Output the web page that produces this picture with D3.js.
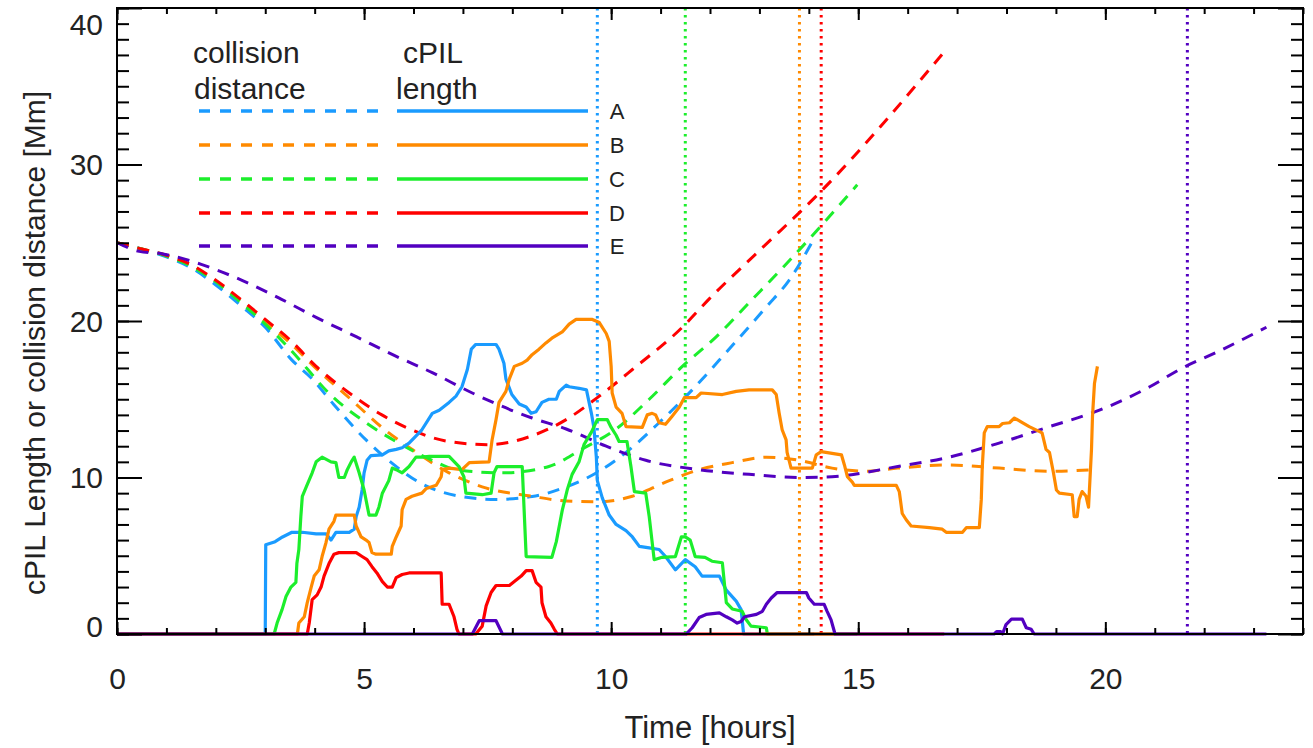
<!DOCTYPE html>
<html><head><meta charset="utf-8">
<script src="https://cdn.jsdelivr.net/npm/d3@7"></script>
<style>
body{margin:0;background:#fff}
text{font-family:"Liberation Sans",Arial,Helvetica,sans-serif;fill:#222}
</style>
</head><body>
<svg id="chart" width="1313" height="748"></svg>
<script>
// ---------- data ----------
const seriesNames  = ["A","B","C","D","E"];
const seriesColors = ["#1a9bff","#ff8a00","#1cee2c","#ff0000","#5200c0"];
const xTickLabels  = [0,5,10,15,20];
const yTickLabels  = [0,10,20,30,40];
const eventTimes   = [9.72,13.81,11.50,14.25,21.66];   // dotted vertical lines A..E

// collision distance [Mm] vs time [h]
const distA = [[0,25],[0.5,24.6],[1,24.1],[1.5,23.4],[2,22.3],[2.5,21.0],[3,19.6],[3.54,17.5],[3.95,16.3],[4.35,14.8],[5.04,12.4],[5.57,10.9],[6.11,9.7],[6.98,8.78],[7.67,8.6],[8.4,8.78],[9.09,9.4],[9.76,10.4],[10.3,11.6],[10.97,13.5],[11.64,15.6],[12.33,18.0],[13.14,20.9],[13.6,22.6],[14.11,25.3]];
const distB = [[0,25],[0.5,24.6],[1,24.2],[1.5,23.55],[2,22.55],[2.5,21.3],[3,19.95],[3.5,18.6],[4.05,16.9],[4.66,15.2],[5.44,13.0],[5.97,11.8],[6.72,10.3],[7.39,9.4],[8.4,8.8],[9.09,8.5],[9.76,8.45],[10.43,8.8],[11.1,9.7],[11.78,10.5],[12.45,10.95],[13.14,11.3],[13.8,11.1],[14.47,10.6],[15.16,10.4],[15.8,10.6],[16.84,10.8],[17.85,10.6],[18.87,10.4],[19.8,10.5]];
const distC = [[0,25],[0.5,24.6],[1,24.15],[1.5,23.5],[2,22.5],[2.5,21.2],[3,19.8],[3.5,18.2],[4.35,15.2],[5.04,13.5],[5.7,12.2],[6.38,11.1],[6.86,10.5],[7.8,10.3],[8.74,10.7],[9.4,11.8],[10.1,13.1],[10.77,15.0],[11.44,17.1],[12.13,19.0],[12.8,21.2],[13.5,23.5],[14.98,28.7]];
const distD = [[0,25],[0.5,24.6],[1,24.2],[1.5,23.6],[2,22.6],[2.5,21.4],[3,20.1],[3.5,18.8],[4.03,17.1],[4.7,15.4],[5.36,14.0],[5.85,13.2],[6.72,12.3],[7.53,12.1],[8.34,12.6],[9.09,13.7],[9.76,15.2],[10.43,16.9],[11.44,19.6],[11.98,21.4],[13.0,24.5],[14.25,28.3],[16.74,37.2]];
const distE = [[0,25],[0.45,24.45],[0.91,24.3],[1.32,24.0],[1.72,23.6],[2.53,22.6],[3.32,21.4],[4.05,20.2],[4.84,19.0],[5.61,17.8],[6.38,16.7],[7.19,15.4],[8.4,13.8],[9.09,13.1],[9.9,12.0],[10.7,11.1],[11.78,10.5],[12.79,10.2],[13.8,10.0],[14.47,10.05],[15.8,10.7],[16.84,11.3],[17.85,12.2],[18.87,13.25],[19.88,14.3],[20.9,15.8],[21.56,17.0],[22.25,18.0],[23.26,19.6]];

// cPIL length [Mm] vs time [h]
const cpilA = [[0,0],[3.0,0],[3.01,5.7],[3.2,5.9],[3.35,6.2],[3.54,6.5],[3.75,6.5],[4.03,6.4],[4.23,6.4],[4.33,6.0],[4.43,6.5],[4.7,6.5],[4.8,6.7],[4.84,7.5],[4.9,8.1],[4.96,9.2],[5.0,10.3],[5.06,11.1],[5.14,11.4],[5.37,11.45],[5.5,11.7],[5.65,11.8],[5.77,11.9],[5.91,12.2],[6.17,13.05],[6.38,14.1],[6.52,14.3],[6.72,14.8],[6.86,15.2],[6.98,15.8],[7.09,16.9],[7.17,18.2],[7.26,18.5],[7.67,18.5],[7.73,18.2],[7.83,17.3],[7.87,16.3],[7.99,15.3],[8.14,14.7],[8.28,14.5],[8.38,14.1],[8.48,14.2],[8.6,14.8],[8.74,15.0],[8.89,15.0],[8.95,15.5],[9.09,15.9],[9.15,15.8],[9.35,15.7],[9.5,15.6],[9.6,14.1],[9.65,13.2],[9.7,11.3],[9.72,9.8],[9.82,8.7],[9.96,7.6],[10.1,7.0],[10.3,6.6],[10.43,6.2],[10.57,5.6],[10.77,5.5],[10.97,5.4],[11.1,4.95],[11.3,4.1],[11.5,4.75],[11.7,4.3],[11.84,3.7],[12.19,3.7],[12.33,2.8],[12.53,2.1],[12.63,1.56],[12.68,0],[14.11,0]];
const cpilB = [[0,0],[3.65,0],[3.68,0.7],[3.79,1.1],[3.85,2.0],[3.93,3.0],[3.99,3.7],[4.09,4.1],[4.15,4.95],[4.23,5.85],[4.29,6.7],[4.39,7.2],[4.43,7.6],[4.8,7.6],[4.84,6.9],[4.94,6.2],[5.04,6.0],[5.1,5.85],[5.16,5.2],[5.24,5.1],[5.55,5.1],[5.57,5.6],[5.65,6.2],[5.75,6.9],[5.77,7.95],[5.85,8.6],[5.97,8.8],[6.17,9.0],[6.26,9.3],[6.46,9.5],[6.56,10.05],[6.58,10.5],[6.72,10.6],[6.98,10.5],[7.13,10.95],[7.53,11.0],[7.59,12.4],[7.67,13.7],[7.73,14.8],[7.87,15.5],[7.94,16.3],[8.04,17.1],[8.2,17.3],[8.3,17.5],[8.4,17.85],[8.54,18.2],[8.68,18.6],[8.8,18.9],[9.01,19.3],[9.15,19.8],[9.29,20.1],[9.62,20.1],[9.76,19.9],[9.9,19.2],[9.96,18.7],[10.0,17.1],[10.02,15.4],[10.1,14.5],[10.22,14.1],[10.3,13.25],[10.63,13.2],[10.73,14.0],[10.83,14.1],[10.9,14.0],[10.97,13.5],[11.1,13.4],[11.23,13.9],[11.38,14.5],[11.48,15.1],[11.72,15.1],[11.82,15.4],[12.25,15.3],[12.53,15.5],[12.79,15.6],[13.26,15.6],[13.34,15.3],[13.4,14.1],[13.46,13.05],[13.54,12.4],[13.56,11.6],[13.64,10.6],[14.07,10.6],[14.15,11.45],[14.25,11.65],[14.66,11.45],[14.72,10.8],[14.78,10.05],[14.88,9.7],[14.92,9.5],[15.77,9.5],[15.83,9.1],[15.89,7.7],[15.97,7.3],[16.07,6.9],[16.44,6.8],[16.7,6.7],[16.78,6.5],[17.11,6.5],[17.19,6.8],[17.45,6.8],[17.49,8.6],[17.51,10.7],[17.55,12.85],[17.61,13.25],[17.85,13.25],[17.92,13.45],[18.06,13.5],[18.16,13.8],[18.32,13.5],[18.46,13.25],[18.66,12.95],[18.72,12.85],[18.8,11.8],[18.87,11.6],[18.95,10.3],[19.01,9.2],[19.07,9.0],[19.33,8.9],[19.37,7.5],[19.43,7.5],[19.47,8.6],[19.53,9.1],[19.61,8.8],[19.66,8.1],[19.72,11.8],[19.74,13.9],[19.78,16.0],[19.84,17.1]];
const cpilC = [[0,0],[3.18,0],[3.24,0.7],[3.34,1.56],[3.42,2.4],[3.52,3.0],[3.62,3.3],[3.64,4.5],[3.68,5.4],[3.72,7.5],[3.75,8.8],[3.83,9.4],[3.95,10.3],[4.03,11.0],[4.15,11.3],[4.33,11.0],[4.43,10.95],[4.49,10.0],[4.6,10.0],[4.66,10.5],[4.74,11.0],[4.8,11.3],[4.9,10.3],[5.0,9.2],[5.1,7.6],[5.24,7.6],[5.3,8.1],[5.37,9.0],[5.5,9.8],[5.57,10.6],[5.65,10.5],[5.77,10.3],[5.91,10.7],[6.05,11.3],[6.17,11.3],[6.32,11.35],[6.72,11.35],[6.92,10.7],[7.02,10.05],[7.06,9.0],[7.39,8.9],[7.57,9.0],[7.63,10.3],[7.69,10.7],[8.2,10.7],[8.28,4.95],[8.8,4.9],[8.89,5.9],[8.95,6.9],[9.01,7.9],[9.11,9.2],[9.21,10.2],[9.35,11.0],[9.45,12.1],[9.6,12.9],[9.72,13.7],[9.92,13.7],[10.0,13.2],[10.1,12.7],[10.16,12.3],[10.32,12.3],[10.4,10.7],[10.47,9.1],[10.7,9.0],[10.77,7.5],[10.87,4.75],[11.03,4.9],[11.3,4.95],[11.42,6.2],[11.5,6.2],[11.6,6.0],[11.7,4.95],[11.9,4.9],[12.04,4.65],[12.25,4.55],[12.33,2.0],[12.45,1.6],[12.65,1.45],[12.73,0.93],[12.83,0.5],[13.14,0.4],[13.16,0],[14.98,0]];
const cpilD = [[0,0],[3.85,0],[3.89,0.7],[3.95,2.2],[4.05,2.5],[4.13,3.0],[4.19,3.7],[4.29,4.5],[4.39,5.1],[4.49,5.2],[4.84,5.2],[4.96,4.95],[5.06,4.75],[5.16,4.3],[5.26,3.9],[5.37,3.35],[5.47,3.0],[5.57,3.0],[5.65,3.6],[5.77,3.8],[5.91,3.9],[6.56,3.9],[6.58,1.9],[6.72,1.9],[6.82,1.1],[6.88,0.3],[6.92,0],[7.26,0],[7.39,0.5],[7.47,1.8],[7.57,2.65],[7.67,3.1],[7.94,3.1],[8.04,3.35],[8.18,3.7],[8.28,4.05],[8.4,4.05],[8.48,3.3],[8.58,3.0],[8.6,2.0],[8.68,1.1],[8.78,0.7],[8.85,0.3],[8.91,0],[16.74,0]];
const cpilE = [[0,0],[7.19,0],[7.33,0.85],[7.67,0.85],[7.8,0],[11.52,0],[11.64,0.4],[11.78,1.05],[11.92,1.25],[12.19,1.35],[12.33,1.1],[12.45,0.9],[12.55,0.7],[12.63,0.8],[12.7,1.1],[12.94,1.25],[13.06,1.45],[13.14,1.9],[13.24,2.3],[13.36,2.65],[13.95,2.65],[14.0,2.3],[14.11,1.9],[14.31,1.9],[14.37,1.45],[14.45,0.9],[14.53,0],[17.75,0],[17.8,0.15],[17.88,0.15],[17.92,0],[17.99,0.6],[18.1,0.95],[18.32,0.95],[18.4,0.4],[18.5,0.3],[18.56,0],[23.26,0]];

const distSeries = [distA,distB,distC,distD,distE];
const cpilSeries = [cpilA,cpilB,cpilC,cpilD,cpilE];

// ---------- layout ----------
const L = 117, R = 1303, T = 8, B = 634;
const svg = d3.select("#chart");
const x = d3.scaleLinear().domain([0,24]).range([L,R]);
const y = d3.scaleLinear().domain([0,40]).range([B,T]);

// event lines (dotted)
svg.append("g").selectAll("line").data(eventTimes).join("line")
  .attr("x1", d => x(d)).attr("x2", d => x(d))
  .attr("y1", y(40)).attr("y2", y(0))
  .attr("stroke", (d,i) => seriesColors[i])
  .attr("stroke-width", 3).attr("stroke-dasharray", "2.5,4.5");

const smooth = d3.line().x(d => x(d[0])).y(d => y(d[1])).curve(d3.curveMonotoneX);
const step = d3.line().x(d => x(d[0])).y(d => y(d[1]));

// collision distance (dashed)
svg.append("g").selectAll("path").data(distSeries).join("path")
  .attr("d", smooth).attr("fill","none")
  .attr("stroke", (d,i) => seriesColors[i])
  .attr("stroke-width", 3).attr("stroke-dasharray","12,9");

// cPIL length (solid)
svg.append("g").selectAll("path").data(cpilSeries).join("path")
  .attr("d", step).attr("fill","none")
  .attr("stroke", (d,i) => seriesColors[i])
  .attr("stroke-width", 3.2).attr("stroke-linejoin","round");

// ---------- axes ----------
function styleAxis(g){
  g.select(".domain").remove();
  g.selectAll(".tick line").attr("stroke","#000").attr("stroke-width",2);
  g.selectAll("text").attr("font-size","30px").attr("fill","#222")
   .attr("font-family",'"Liberation Sans",Arial,sans-serif');
}
const minorX = d3.range(0,25), minorY = d3.range(0,41);
// bottom
svg.append("g").attr("transform",`translate(0,${B})`)
  .call(d3.axisBottom(x).tickValues(minorX).tickSize(-6).tickFormat("")).call(styleAxis);
svg.append("g").attr("transform",`translate(0,${B})`)
  .call(d3.axisBottom(x).tickValues(xTickLabels).tickSize(-12).tickPadding(34).tickFormat(d3.format("d")))
  .call(styleAxis);
// top
svg.append("g").attr("transform",`translate(0,${T})`)
  .call(d3.axisTop(x).tickValues(minorX).tickSize(-6).tickFormat("")).call(styleAxis);
svg.append("g").attr("transform",`translate(0,${T})`)
  .call(d3.axisTop(x).tickValues(xTickLabels).tickSize(-12).tickFormat("")).call(styleAxis);
// left
svg.append("g").attr("transform",`translate(${L},0)`)
  .call(d3.axisLeft(y).tickValues(minorY).tickSize(-12).tickFormat("")).call(styleAxis);
const yl = svg.append("g").attr("transform",`translate(${L},0)`)
  .call(d3.axisLeft(y).tickValues(yTickLabels).tickSize(-25).tickPadding(14).tickFormat(d3.format("d")))
  .call(styleAxis);
yl.selectAll(".tick text").attr("dy", d => d === 40 ? "26px" : d === 0 ? "2px" : "10px");
// right
svg.append("g").attr("transform",`translate(${R},0)`)
  .call(d3.axisRight(y).tickValues(minorY).tickSize(-12).tickFormat("")).call(styleAxis);
svg.append("g").attr("transform",`translate(${R},0)`)
  .call(d3.axisRight(y).tickValues(yTickLabels).tickSize(-25).tickFormat("")).call(styleAxis);

// frame
svg.append("rect").attr("x",L).attr("y",T).attr("width",R-L).attr("height",B-T)
  .attr("fill","none").attr("stroke","#000").attr("stroke-width",2);

// axis titles
svg.append("text").attr("x",(L+R)/2).attr("y",738).attr("text-anchor","middle")
  .attr("font-size","31px").text("Time [hours]");
svg.append("text").attr("transform","translate(45,343) rotate(-90)").attr("text-anchor","middle")
  .attr("font-size","30px").text("cPIL Length or collision distance [Mm]");

// ---------- legend ----------
const lg = svg.append("g");
lg.append("text").attr("x",193).attr("y",63).attr("font-size","30px").text("collision");
lg.append("text").attr("x",194).attr("y",99).attr("font-size","30px").text("distance");
lg.append("text").attr("x",403).attr("y",63).attr("font-size","30px").text("cPIL");
lg.append("text").attr("x",396).attr("y",99).attr("font-size","30px").text("length");
const rowY = [111,145,179,213,246];
seriesNames.forEach((n,i) => {
  lg.append("line").attr("x1",199).attr("x2",380).attr("y1",rowY[i]).attr("y2",rowY[i])
    .attr("stroke",seriesColors[i]).attr("stroke-width",3.5).attr("stroke-dasharray","11,10");
  lg.append("line").attr("x1",397).attr("x2",588).attr("y1",rowY[i]).attr("y2",rowY[i])
    .attr("stroke",seriesColors[i]).attr("stroke-width",3.5);
  lg.append("text").attr("x",617).attr("y",rowY[i]+8).attr("text-anchor","middle")
    .attr("font-size","22px").text(n);
});
</script>
</body></html>
